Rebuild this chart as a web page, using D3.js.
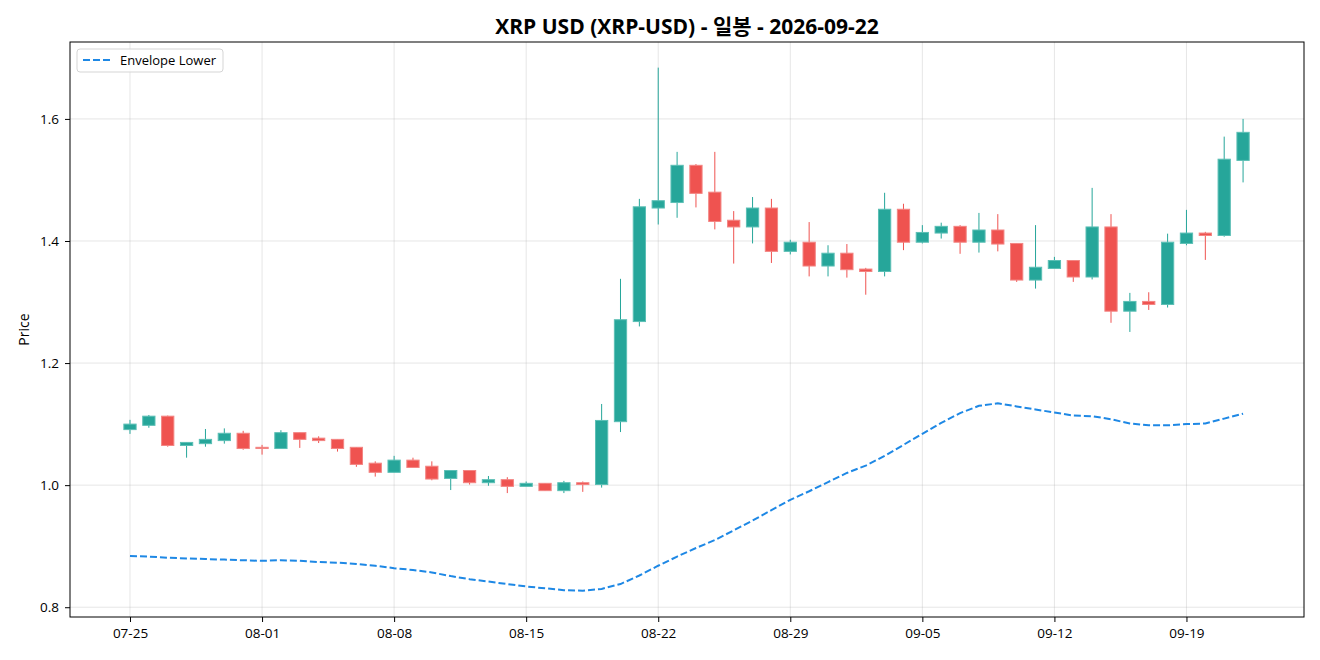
<!DOCTYPE html>
<html lang="ko">
<head>
<meta charset="UTF-8">
<title>XRP USD</title>
<script src="https://cdn.jsdelivr.net/npm/d3@7"></script>
<style>
  body { margin: 0; background: #fff; }
  svg text { font-family: "Open Sans", "Noto Sans CJK KR", sans-serif; }
</style>
</head>
<body>
<script>
// daily candles, 07-25 .. 09-22
var dates = ["07-25","07-26","07-27","07-28","07-29","07-30","07-31",
  "08-01","08-02","08-03","08-04","08-05","08-06","08-07","08-08","08-09","08-10",
  "08-11","08-12","08-13","08-14","08-15","08-16","08-17","08-18","08-19","08-20",
  "08-21","08-22","08-23","08-24","08-25","08-26","08-27","08-28","08-29","08-30","08-31",
  "09-01","09-02","09-03","09-04","09-05","09-06","09-07","09-08","09-09","09-10",
  "09-11","09-12","09-13","09-14","09-15","09-16","09-17","09-18","09-19","09-20",
  "09-21","09-22"];

var open = [1.091,1.098,1.113,1.065,1.068,1.073,1.085,
  1.062,1.060,1.086,1.077,1.075,1.062,1.036,1.021,1.041,1.031,
  1.011,1.024,1.004,1.009,0.998,1.003,0.991,1.004,1.001,1.104,
  1.268,1.454,1.463,1.524,1.480,1.434,1.423,1.454,1.383,1.398,1.359,
  1.380,1.354,1.350,1.452,1.398,1.413,1.424,1.398,1.418,1.396,
  1.336,1.355,1.368,1.341,1.423,1.285,1.301,1.296,1.396,1.413,
  1.409,1.532];

var high = [1.107,1.115,1.114,1.070,1.092,1.093,1.089,
  1.066,1.090,1.086,1.080,1.075,1.062,1.039,1.048,1.045,1.039,
  1.024,1.024,1.015,1.013,1.006,1.003,1.007,1.006,1.133,1.338,
  1.469,1.684,1.546,1.526,1.546,1.449,1.472,1.469,1.402,1.431,1.393,
  1.395,1.356,1.479,1.461,1.426,1.430,1.426,1.446,1.444,1.396,
  1.426,1.374,1.368,1.487,1.444,1.315,1.316,1.412,1.451,1.415,
  1.571,1.600];

var low = [1.084,1.094,1.063,1.045,1.063,1.068,1.058,
  1.050,1.060,1.061,1.069,1.055,1.030,1.014,1.021,1.029,1.008,
  0.992,1.001,0.999,0.987,0.998,0.991,0.987,0.989,0.996,1.087,
  1.260,1.427,1.438,1.455,1.419,1.363,1.396,1.364,1.378,1.342,1.342,
  1.340,1.312,1.342,1.385,1.396,1.404,1.379,1.381,1.383,1.333,
  1.322,1.355,1.333,1.337,1.266,1.251,1.287,1.291,1.393,1.369,
  1.407,1.496];

var close = [1.100,1.113,1.065,1.070,1.075,1.085,1.060,
  1.060,1.086,1.075,1.073,1.060,1.034,1.021,1.041,1.029,1.010,
  1.024,1.004,1.009,0.998,1.003,0.991,1.004,1.001,1.106,1.271,
  1.456,1.466,1.524,1.478,1.432,1.423,1.454,1.383,1.398,1.359,1.380,
  1.353,1.350,1.452,1.398,1.414,1.424,1.398,1.418,1.395,1.336,
  1.357,1.368,1.341,1.423,1.285,1.301,1.296,1.398,1.413,1.409,
  1.534,1.578];

var envLower = [0.884,0.883,0.881,0.880,0.879,0.878,0.877,
  0.876,0.877,0.876,0.874,0.873,0.871,0.868,0.864,0.861,0.857,
  0.851,0.846,0.842,0.838,0.834,0.831,0.828,0.827,0.830,0.838,
  0.852,0.868,0.883,0.897,0.910,0.926,0.942,0.959,0.976,0.990,1.005,
  1.020,1.032,1.048,1.066,1.084,1.102,1.118,1.130,1.134,1.129,
  1.124,1.119,1.114,1.113,1.108,1.101,1.098,1.098,1.100,1.101,
  1.109,1.117];

var xTickIdx = [0,7,14,21,28,35,42,49,56];
var yTicks = [0.8,1.0,1.2,1.4,1.6];

var upColor = "#26a69a", downColor = "#ef5350", envColor = "#1e88e5";

var W = 1320, H = 660;
var mLeft = 70, mRight = 1304, mTop = 42, mBottom = 617;

var svg = d3.select("body").append("svg")
  .attr("width", W).attr("height", H);

var x = d3.scaleLinear().domain([-3.18, dates.length - 1 + 3.23]).range([mLeft, mRight]);
var y = d3.scaleLinear().domain([0.784, 1.726]).range([mBottom, mTop]);

// grid
svg.append("g").selectAll("line").data(xTickIdx).enter().append("line")
  .attr("x1", function(d){ return x(d); }).attr("x2", function(d){ return x(d); })
  .attr("y1", mTop).attr("y2", mBottom)
  .style("stroke", "#b0b0b0").style("stroke-opacity", 0.4).style("stroke-width", 0.8);
svg.append("g").selectAll("line").data(yTicks).enter().append("line")
  .attr("y1", function(d){ return y(d); }).attr("y2", function(d){ return y(d); })
  .attr("x1", mLeft).attr("x2", mRight)
  .style("stroke", "#b0b0b0").style("stroke-opacity", 0.4).style("stroke-width", 0.8);

// candles
var candles = dates.map(function(d, i) {
  return { i: i, o: open[i], h: high[i], l: low[i], c: close[i] };
});
var bw = x(0.65) - x(0);

var g = svg.append("g");
g.selectAll("line.wick").data(candles).enter().append("line")
  .attr("class", "wick")
  .attr("x1", function(d){ return x(d.i); }).attr("x2", function(d){ return x(d.i); })
  .attr("y1", function(d){ return y(d.h); }).attr("y2", function(d){ return y(d.l); })
  .style("stroke", function(d){ return d.c >= d.o ? upColor : downColor; })
  .style("stroke-width", 1);

g.selectAll("rect.body").data(candles).enter().append("rect")
  .attr("class", "body")
  .attr("x", function(d){ return x(d.i) - bw / 2; })
  .attr("width", bw)
  .attr("y", function(d){ return y(Math.max(d.o, d.c)); })
  .attr("height", function(d){ return Math.max(1, Math.abs(y(d.o) - y(d.c))); })
  .style("fill", function(d){ return d.c >= d.o ? upColor : downColor; })
  .style("stroke", function(d){ return d.c >= d.o ? "#5cbfb5" : "#f38583"; })
  .style("stroke-width", 1);

// envelope lower
var line = d3.line()
  .x(function(d, i){ return x(i); })
  .y(function(d){ return y(d); });
svg.append("path").datum(envLower)
  .attr("d", line)
  .style("fill", "none")
  .style("stroke", envColor)
  .style("stroke-width", 2)
  .style("stroke-dasharray", "7,3");

// axes
var xAxis = d3.axisBottom(x).tickValues(xTickIdx)
  .tickFormat(function(d){ return dates[d]; })
  .tickSize(5).tickPadding(6);
var yAxis = d3.axisLeft(y).tickValues(yTicks)
  .tickFormat(d3.format(".1f"))
  .tickSize(5).tickPadding(6);

var gx = svg.append("g").attr("transform", "translate(0," + mBottom + ")").call(xAxis);
var gy = svg.append("g").attr("transform", "translate(" + mLeft + ",0)").call(yAxis);
[gx, gy].forEach(function(a) {
  a.select(".domain").remove();
  a.selectAll("text").style("font-size", "13.5px").style("fill", "#000");
  a.selectAll("line").style("stroke", "#000");
});

svg.append("rect")
  .attr("x", mLeft).attr("y", mTop)
  .attr("width", mRight - mLeft).attr("height", mBottom - mTop)
  .style("fill", "none").style("stroke", "#000").style("stroke-width", 1);

// labels
svg.append("text")
  .attr("x", (mLeft + mRight) / 2).attr("y", 34)
  .attr("text-anchor", "middle")
  .style("font-size", "21px").style("font-weight", "bold")
  .text("XRP USD (XRP-USD) - 일봉 - 2026-09-22");

svg.append("text")
  .attr("transform", "translate(29," + ((mTop + mBottom) / 2) + ") rotate(-90)")
  .attr("text-anchor", "middle")
  .style("font-size", "14px")
  .text("Price");

// legend
var lg = svg.append("g").attr("transform", "translate(77,49)");
lg.append("rect").attr("width", 146).attr("height", 23).attr("rx", 3)
  .style("fill", "#fff").style("fill-opacity", 0.8)
  .style("stroke", "#d5d5d5").style("stroke-width", 1);
lg.append("line").attr("x1", 6).attr("x2", 33).attr("y1", 11).attr("y2", 11)
  .style("stroke", envColor).style("stroke-width", 2).style("stroke-dasharray", "7,3");
lg.append("text").attr("x", 43).attr("y", 16)
  .style("font-size", "13px").text("Envelope Lower");
</script>
</body>
</html>
